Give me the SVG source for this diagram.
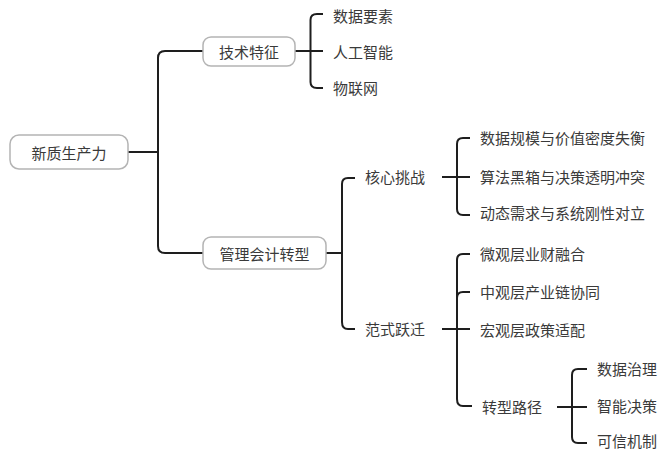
<svg xmlns="http://www.w3.org/2000/svg" width="660" height="453" viewBox="0 0 660 453">
<style>
.box{fill:#fff;stroke:#b4b4b4;stroke-width:1.5}
.t{font-family:"Noto Sans CJK SC","Noto Sans",sans-serif;font-size:15px;fill:#3a3a3a;dominant-baseline:central}
.c{text-anchor:middle}
.ln{fill:none;stroke:#1e1e1e;stroke-width:2;stroke-linecap:butt}
</style>
<rect width="660" height="453" fill="#fff"/>
<g id="connectors">
<path class="ln" d="M128,152 H158"/>
<path class="ln" d="M203,51 H165 Q158,51 158,58 V246 Q158,253 165,253 H203"/>
<path class="ln" d="M295,51 H323"/>
<path class="ln" d="M323,14 H317 Q310.5,14 310.5,20 V82 Q310.5,88 317,88 H323"/>
<path class="ln" d="M326,253 H342"/>
<path class="ln" d="M355,178 H348 Q342,178 342,184 V322 Q342,329 348,329 H355"/>
<path class="ln" d="M442,177 H470"/>
<path class="ln" d="M470,138 H463 Q457,138 457,144 V209 Q457,215 463,215 H470"/>
<path class="ln" d="M442,329 H470"/>
<path class="ln" d="M470,254 H463 Q457,254 457,260 V399 Q457,406 463,406 H472"/>
<path class="ln" d="M457,298 Q457,292 463,292 H470"/>
<path class="ln" d="M557,407 H587"/>
<path class="ln" d="M587,369 H578 Q572,369 572,375 V437 Q572,443 578,443 H587"/>
</g>
<g id="root"><rect class="box" x="10" y="135" width="118" height="34" rx="9"/><text class="t c" x="69" y="152">新质生产力</text></g>
<g id="jishu"><rect class="box" x="203" y="37" width="92" height="29" rx="8"/><text class="t c" x="249" y="51">技术特征</text></g>
<g id="guanli"><rect class="box" x="203" y="237" width="123" height="32" rx="8"/><text class="t c" x="264.5" y="253">管理会计转型</text></g>
<g id="n1"><text class="t" x="333" y="15">数据要素</text></g>
<g id="n2"><text class="t" x="333" y="51">人工智能</text></g>
<g id="n3"><text class="t" x="333" y="87">物联网</text></g>
<g id="hexin"><text class="t" x="365" y="176">核心挑战</text></g>
<g id="fanshi"><text class="t" x="365" y="328">范式跃迁</text></g>
<g id="h1"><text class="t" x="480" y="137">数据规模与价值密度失衡</text></g>
<g id="h2"><text class="t" x="480" y="176">算法黑箱与决策透明冲突</text></g>
<g id="h3"><text class="t" x="480" y="212">动态需求与系统刚性对立</text></g>
<g id="f1"><text class="t" x="480" y="253">微观层业财融合</text></g>
<g id="f2"><text class="t" x="480" y="291">中观层产业链协同</text></g>
<g id="f3"><text class="t" x="480" y="329">宏观层政策适配</text></g>
<g id="f4"><text class="t" x="482" y="406">转型路径</text></g>
<g id="z1"><text class="t" x="597" y="368">数据治理</text></g>
<g id="z2"><text class="t" x="597" y="405">智能决策</text></g>
<g id="z3"><text class="t" x="597" y="440">可信机制</text></g>
</svg>
